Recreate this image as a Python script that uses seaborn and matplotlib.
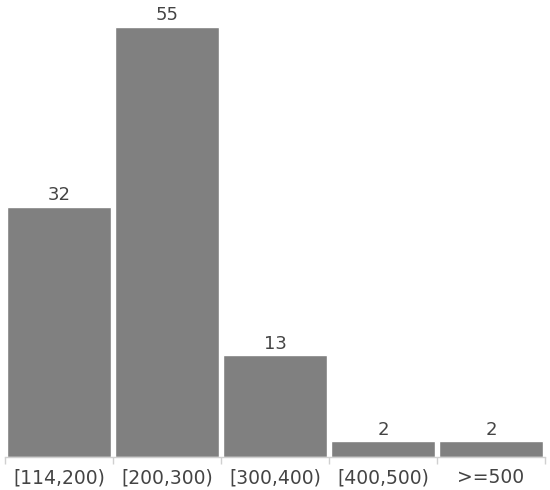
import matplotlib
matplotlib.use("Agg")
import matplotlib.pyplot as plt
import seaborn as sns
import pandas as pd

# Werte
categories = ["[114,200)", "[200,300)", "[300,400)", "[400,500)", ">=500"]
counts = [32, 55, 13, 2, 2]

df = pd.DataFrame({"range": categories, "count": counts})

sns.set_style("white")
plt.rcParams["font.family"] = ["DejaVu Sans"]

fig = plt.figure(figsize=(5.5, 4.9), dpi=100)
ax = fig.add_axes([5 / 550, 33 / 490, 540 / 550, 430 / 490])

sns.barplot(data=df, x="range", y="count", color="#808080", saturation=1,
            width=0.963, ax=ax)

for c in ax.containers:
    ax.bar_label(c, fontsize=13, color="#444444", padding=2)

ax.set_ylim(0, 55)
ax.set_xlim(-0.5, len(categories) - 0.5)
ax.set_xlabel("")
ax.set_ylabel("")
ax.set_yticks([])

for s in ["top", "right", "left"]:
    ax.spines[s].set_visible(False)
ax.spines["bottom"].set_color("#d0d0d0")
ax.spines["bottom"].set_linewidth(1)

ax.set_xticks([i - 0.5 for i in range(len(categories) + 1)], minor=True)
ax.tick_params(axis="x", which="minor", bottom=True, length=5,
               color="#d0d0d0", width=1)
ax.tick_params(axis="x", which="major", bottom=True, length=0, labelsize=13.5,
               labelcolor="#444444", pad=8)

fig.savefig("out.png", dpi=100)
plt.close(fig)
